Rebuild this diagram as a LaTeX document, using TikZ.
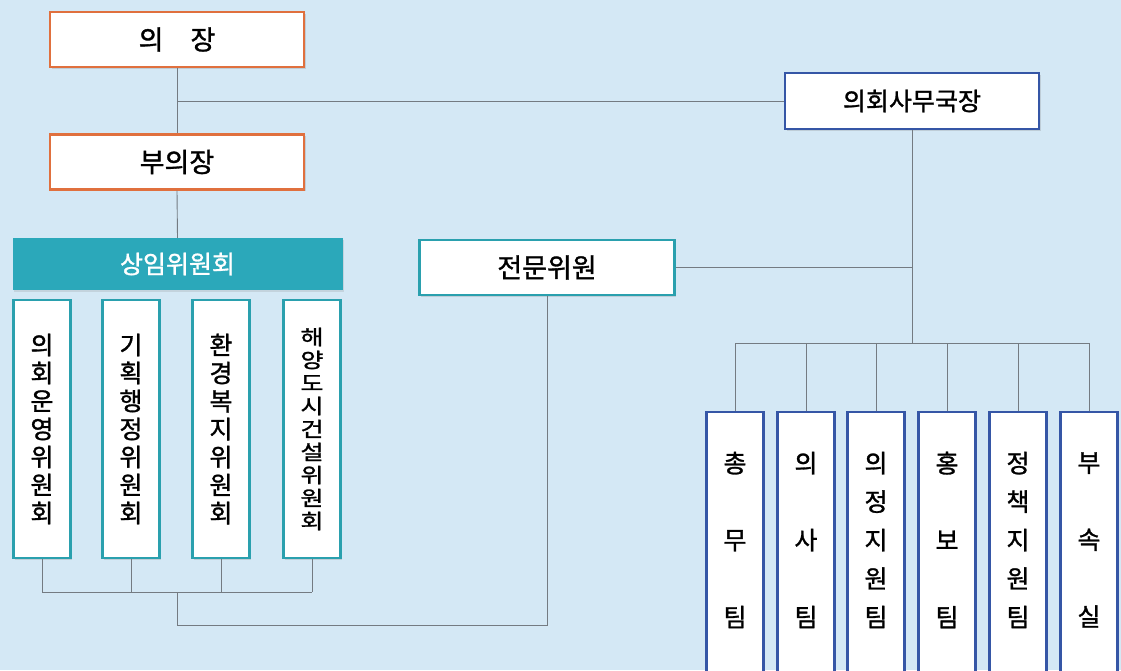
\documentclass[tikz,border=0pt]{standalone}
\usepackage{fontspec}
\usepackage{graphicx}
\setmainfont{Noto Sans CJK KR}[FakeBold=1.2]
\usetikzlibrary{shadows}
\definecolor{bg}{HTML}{D4E8F5}
\definecolor{orangeb}{HTML}{E0703E}
\definecolor{blueb}{HTML}{3556A6}
\definecolor{tealb}{HTML}{2AA0AE}
\definecolor{tealf}{HTML}{2BA8BA}
\definecolor{lineg}{HTML}{747B82}
\newcommand\sqz[1]{\scalebox{1}[0.82]{#1}}
\tikzset{
  box/.style={draw, fill=white, line width=2.4pt, inner sep=0pt, anchor=center,
    drop shadow={opacity=0.25, shadow xshift=1.5pt, shadow yshift=-1.5pt}},
  obox/.style={box, draw=orangeb, minimum width=254pt, minimum height=55pt, font=\fontsize{27}{30}\selectfont},
  bbox/.style={box, draw=blueb, minimum width=254pt, minimum height=56pt, font=\fontsize{25}{28}\selectfont},
  ebox/.style={box, draw=tealb, minimum width=255pt, minimum height=55pt, font=\fontsize{27}{30}\selectfont},
  cbox/.style={box, draw=tealb, minimum width=57pt, minimum height=258pt},
  tbox/.style={box, draw=blueb, minimum width=57pt, minimum height=270pt},
  vtext/.style={align=center, inner sep=0pt, font=\fontsize{25}{28}\selectfont},
  conn/.style={draw=lineg, line width=0.9pt},
}
\begin{document}
\begin{tikzpicture}[x=1pt,y=-1pt]
\useasboundingbox (0,0) rectangle (1121,670);
\fill[bg] (0,0) rectangle (1121,670);
\clip (0,0) rectangle (1121,670);

\coordinate (j1) at (177,101);
\coordinate (sb) at (912,343);
\coordinate (cb) at (177,592);
\coordinate (eb) at (547,625);

% top boxes
\node[obox] (chair) at (177,39.5) {의\hspace{1em}장};
\node[obox] (vice) at (177,162) {부의장};
\node[bbox] (sec) at (912,101) {의회사무국장};
\node[ebox] (expert) at (547,267.5) {전문위원};
\node[fill=tealf, minimum width=330pt, minimum height=52pt, inner sep=0pt, text=white,
      font=\fontsize{25}{28}\selectfont, drop shadow={opacity=0.2, shadow xshift=1.5pt, shadow yshift=-1.5pt}] (standing) at (177.5,264) {상임위원회};

% committees
\node[cbox] (c1) at (42,429) {};
\node[cbox] (c2) at (131,429) {};
\node[cbox] (c3) at (221,429) {};
\node[cbox] (c4) at (312,429) {};
\node[vtext] (c1t) at (c1) {의\\회\\운\\영\\위\\원\\회};
\node[vtext] (c2t) at (c2) {기\\획\\행\\정\\위\\원\\회};
\node[vtext] (c3t) at (c3) {환\\경\\복\\지\\위\\원\\회};
\node[vtext, font=\fontsize{25}{23}\selectfont] (c4t) at (c4) {\sqz{해}\\\sqz{양}\\\sqz{도}\\\sqz{시}\\\sqz{건}\\\sqz{설}\\\sqz{위}\\\sqz{원}\\\sqz{회}};

% teams
\node[tbox] (t1) at (735,547) {};
\node[tbox] (t2) at (806,547) {};
\node[tbox] (t3) at (876,547) {};
\node[tbox] (t4) at (947,547) {};
\node[tbox] (t5) at (1018,547) {};
\node[tbox] (t6) at (1089,547) {};
\node[vtext, font=\fontsize{25}{77}\selectfont] (t1t) at (735,540) {총\\무\\팀};
\node[vtext, font=\fontsize{25}{77}\selectfont] (t2t) at (806,540) {의\\사\\팀};
\node[vtext, font=\fontsize{25}{38.5}\selectfont] (t3t) at (876,540) {의\\정\\지\\원\\팀};
\node[vtext, font=\fontsize{25}{77}\selectfont] (t4t) at (947,540) {홍\\보\\팀};
\node[vtext, font=\fontsize{25}{38.5}\selectfont] (t5t) at (1018,540) {정\\책\\지\\원\\팀};
\node[vtext, font=\fontsize{25}{77}\selectfont] (t6t) at (1089,540) {부\\속\\실};

% connectors
\draw[conn] (chair.south) -- (vice.north);
\draw[conn] (j1) -- (sec.west);
\draw[conn] (vice.south) -- (standing.north);
\draw[conn] (sec.south) -- (sb);
\draw[conn] (expert.east) -- (expert.east -| sb);
\draw[conn] (t1.north |- sb) -- (t6.north |- sb);
\foreach \t in {t1,t2,t3,t4,t5,t6} \draw[conn] (\t.north) -- (\t.north |- sb);
\draw[conn] (c1.south |- cb) -- (c4.south |- cb);
\foreach \c in {c1,c2,c3,c4} \draw[conn] (\c.south) -- (\c.south |- cb);
\draw[conn] (cb) -- (cb |- eb) -- (eb) -- (expert.south);
\end{tikzpicture}
\end{document}
